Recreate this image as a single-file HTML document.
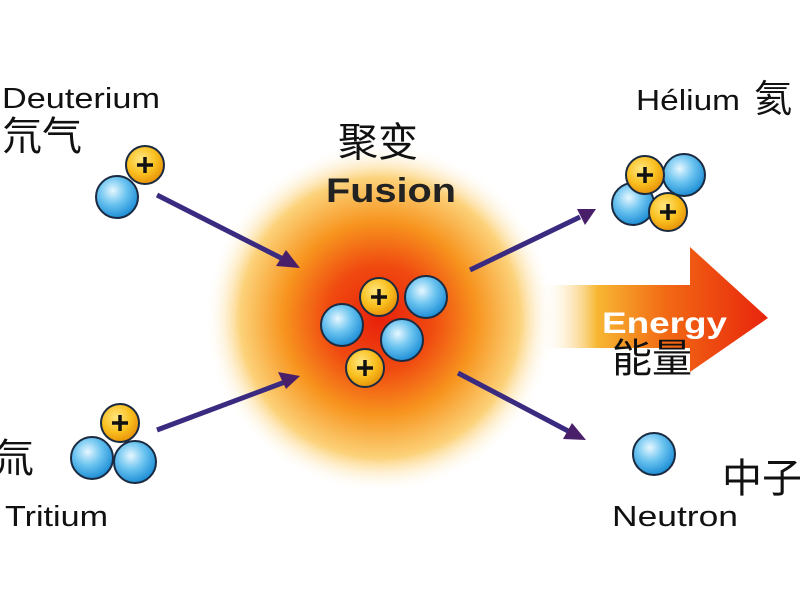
<!DOCTYPE html>
<html><head><meta charset="utf-8"><style>
html,body{margin:0;padding:0;background:#fff;width:800px;height:600px;overflow:hidden}
text{font-family:"Liberation Sans","Noto Sans CJK SC",sans-serif}
</style></head><body>
<svg width="800" height="600" viewBox="0 0 800 600" xmlns="http://www.w3.org/2000/svg">
<defs>
<radialGradient id="glow" cx="0.5" cy="0.5" r="0.5">
<stop offset="0" stop-color="#e8200a"/>
<stop offset="0.3" stop-color="#f04a10"/>
<stop offset="0.55" stop-color="#f7941e"/>
<stop offset="0.8" stop-color="#fcd27a"/>
<stop offset="1" stop-color="#fff" stop-opacity="0"/>
</radialGradient>
<linearGradient id="arr" x1="0" y1="0" x2="1" y2="0">
<stop offset="0" stop-color="#fff" stop-opacity="0"/>
<stop offset="0.25" stop-color="#f7b733"/>
<stop offset="0.55" stop-color="#f26a14"/>
<stop offset="1" stop-color="#e8240c"/>
</linearGradient>
<radialGradient id="blue" cx="0.4" cy="0.35" r="0.65">
<stop offset="0" stop-color="#e6f7ff"/>
<stop offset="0.5" stop-color="#6cc4f0"/>
<stop offset="1" stop-color="#1f8fd6"/>
</radialGradient>
<radialGradient id="gold" cx="0.4" cy="0.35" r="0.65">
<stop offset="0" stop-color="#ffe680"/>
<stop offset="0.6" stop-color="#f9bf1e"/>
<stop offset="1" stop-color="#e8940a"/>
</radialGradient>
<g id="n"><circle r="21" fill="url(#blue)" stroke="#1a2a40" stroke-width="2"/></g>
<g id="p"><circle r="19" fill="url(#gold)" stroke="#1a2a40" stroke-width="2"/><path d="M-8 0H8M0 -8V8" stroke="#111" stroke-width="3.5"/></g>
</defs>
<circle cx="380" cy="318" r="175" fill="url(#glow)"/>
<path d="M540 285 L690 285 L690 247 L768 318 L690 372 L690 348 L540 348 Z" fill="url(#arr)"/>
<g stroke-width="5" fill="#4a1f6a">
<line x1="157" y1="195" x2="285" y2="260" stroke="#3a2a80"/>
<polygon points="300,268 276,266 286,250"/>
<line x1="157" y1="430" x2="285" y2="382" stroke="#3a2a80"/>
<polygon points="300,376 286,389 278,372"/>
<line x1="470" y1="270" x2="580" y2="217" stroke="#3a2a80"/>
<polygon points="596,209 585,225 577,209"/>
<line x1="458" y1="373" x2="570" y2="432" stroke="#3a2a80"/>
<polygon points="586,440 563,439 572,423"/>
</g>
<use href="#n" x="117" y="197"/><use href="#p" x="145" y="165"/>
<use href="#n" x="92" y="458"/><use href="#n" x="135" y="462"/><use href="#p" x="120" y="423"/>
<use href="#n" x="684" y="175"/><use href="#n" x="633" y="204"/><use href="#p" x="645" y="175"/><use href="#p" x="668" y="212"/>
<use href="#n" x="342" y="325"/><use href="#n" x="426" y="297"/><use href="#n" x="402" y="340"/><use href="#p" x="379" y="297"/><use href="#p" x="365" y="368"/>
<use href="#n" x="654" y="454"/>
<text x="2" y="108" font-size="29" fill="#111" textLength="158" lengthAdjust="spacingAndGlyphs">Deuterium</text>
<text x="2" y="150" font-size="40" fill="#111">氘气</text>
<text x="338" y="156" font-size="40" fill="#111">聚变</text>
<text x="326" y="202" font-size="34" font-weight="bold" fill="#222" textLength="130" lengthAdjust="spacingAndGlyphs">Fusion</text>
<text x="636" y="110" font-size="29" fill="#111" textLength="104" lengthAdjust="spacingAndGlyphs">Hélium</text>
<text x="754" y="112" font-size="38" fill="#111">氦</text>
<text x="602" y="333" font-size="30" font-weight="bold" fill="#fff" textLength="125" lengthAdjust="spacingAndGlyphs">Energy</text>
<text x="612" y="372" font-size="40" fill="#111">能量</text>
<text x="-6" y="472" font-size="40" fill="#111">氚</text>
<text x="5" y="526" font-size="29" fill="#111" textLength="103" lengthAdjust="spacingAndGlyphs">Tritium</text>
<text x="722" y="492" font-size="40" fill="#111">中子</text>
<text x="612" y="526" font-size="29" fill="#111" textLength="126" lengthAdjust="spacingAndGlyphs">Neutron</text>
</svg>
</body></html>
